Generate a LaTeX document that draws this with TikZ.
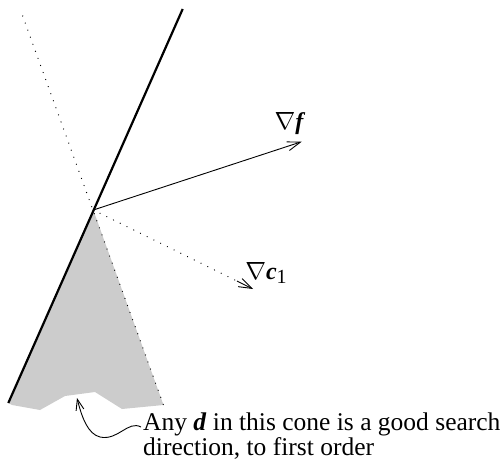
\documentclass[tikz,border=0pt]{standalone}
\usepackage{fontspec}
\setmainfont{Liberation Serif}
\usetikzlibrary{arrows.meta,calc}
\begin{document}
\begin{tikzpicture}[x=1pt,y=-1pt,
  thickline/.style={line width=2.2pt},
  dotline/.style={line width=1.3pt,dash pattern=on 0.01pt off 7.5pt,line cap=round},
  vec/.style={line width=0.9pt,-{Straight Barb[length=13pt,width=9pt,line width=0.9pt]}},
  lbl/.style={font=\fontsize{24}{24}\selectfont,inner sep=0pt},
  txtstyle/.style={font=\fontsize{25.5}{23}\selectfont,inner sep=0pt,align=left},
  conefill/.style={fill=black!20,draw=none}]
\useasboundingbox (0,0) rectangle (502,462);
% key points
\coordinate (V) at (93.3,210);
\coordinate (Ttop) at (182.7,9);
\coordinate (Tbot) at (8.3,403);
\coordinate (Dtop) at (22.7,16);
\coordinate (Dbot) at (163.5,405);
\coordinate (Ftip) at (301.7,141.7);
\coordinate (Ctip) at (253,289);
% cone
\fill[conefill] (V) -- (Tbot) -- (12,405) -- (40,410) -- (65,396) -- (95,392) -- (122,409) -- (Dbot) -- cycle;
% lines
\draw[thickline] (Ttop) -- (Tbot);
\draw[dotline] (Dtop) -- (Dbot);
% gradient f
\draw[vec] (V) -- (Ftip);
\node[lbl] (gf) at (290,124) {$\nabla$\textbf{\textit{f}}};
% gradient c1
\coordinate (Cmid) at ($(V)!0.9!(Ctip)$);
\draw[dotline] (V) -- (Cmid);
\draw[vec] (Cmid) -- (Ctip);
\node[lbl] (gc) at (266,273) {$\nabla$\textbf{\textit{c}}\raisebox{-0.35ex}{\fontsize{20}{20}\selectfont 1}};
% text
\node[txtstyle,anchor=base west] (txt) at (143,455) {Any \textbf{\textit{d}} in this cone is a good search\\direction, to first order};
\coordinate (Astart) at (141,427);
\coordinate (Atip) at (77,398);
\draw[line width=0.9pt,-{Straight Barb[length=11pt,width=8pt,line width=0.9pt]}] (Astart) .. controls (128,420) and (118,441) .. (100,437) .. controls (88,434) and (82,418) .. (Atip);
\end{tikzpicture}
\end{document}
